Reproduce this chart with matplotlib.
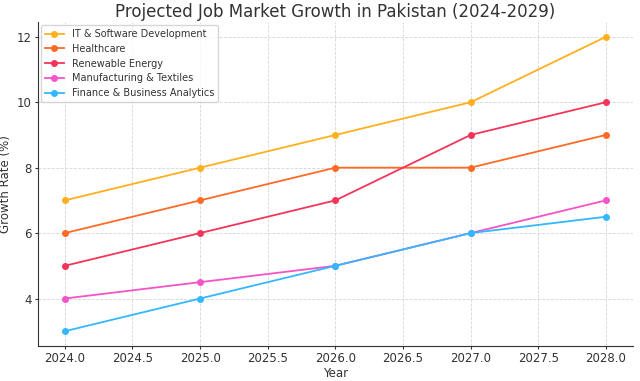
import matplotlib
matplotlib.use("Agg")
import matplotlib.pyplot as plt

years = [2024, 2025, 2026, 2027, 2028]
it_software = [7, 8, 9, 10, 12]
healthcare = [6, 7, 8, 8, 9]
renewable = [5, 6, 7, 9, 10]
manufacturing = [4, 4.5, 5, 6, 7]
finance = [3, 4, 5, 6, 6.5]

series = [
    ("IT & Software Development", it_software, "#FFB01F"),
    ("Healthcare", healthcare, "#FF6A26"),
    ("Renewable Energy", renewable, "#F2355A"),
    ("Manufacturing & Textiles", manufacturing, "#F553C8"),
    ("Finance & Business Analytics", finance, "#33B8FF"),
]

txt = "#333333"
fig = plt.figure(figsize=(6.4, 3.81), dpi=100)
ax = fig.add_axes([0.059, 0.092, 0.93, 0.85])
for name, vals, col in series:
    ax.plot(years, vals, marker="o", markersize=4, linewidth=1.3, color=col, label=name)

ax.set_title("Projected Job Market Growth in Pakistan (2024-2029)", fontsize=12, color=txt, pad=4)
ax.set_xlabel("Year", fontsize=8.5, color=txt, labelpad=1)
ax.set_ylabel("Growth Rate (%)", fontsize=8.5, color=txt, labelpad=3)
ax.set_xticks([2024, 2024.5, 2025, 2025.5, 2026, 2026.5, 2027, 2027.5, 2028])
ax.set_xticklabels(["2024.0", "2024.5", "2025.0", "2025.5", "2026.0", "2026.5", "2027.0", "2027.5", "2028.0"])
ax.set_yticks([4, 6, 8, 10, 12])
ax.set_xlim(2023.8, 2028.2)
ax.set_ylim(2.55, 12.45)
ax.tick_params(labelsize=8.5, colors=txt, length=2.5, pad=2)
ax.grid(True, linestyle="--", linewidth=0.6, color="#cccccc", alpha=0.8)
for s in ["top", "right"]:
    ax.spines[s].set_visible(False)
for s in ["left", "bottom"]:
    ax.spines[s].set_color(txt)
leg = ax.legend(loc="upper left", fontsize=7, frameon=True, handlelength=2,
                borderaxespad=0.3, labelspacing=0.5)
for t in leg.get_texts():
    t.set_color(txt)
fig.savefig("out.png", dpi=100)
